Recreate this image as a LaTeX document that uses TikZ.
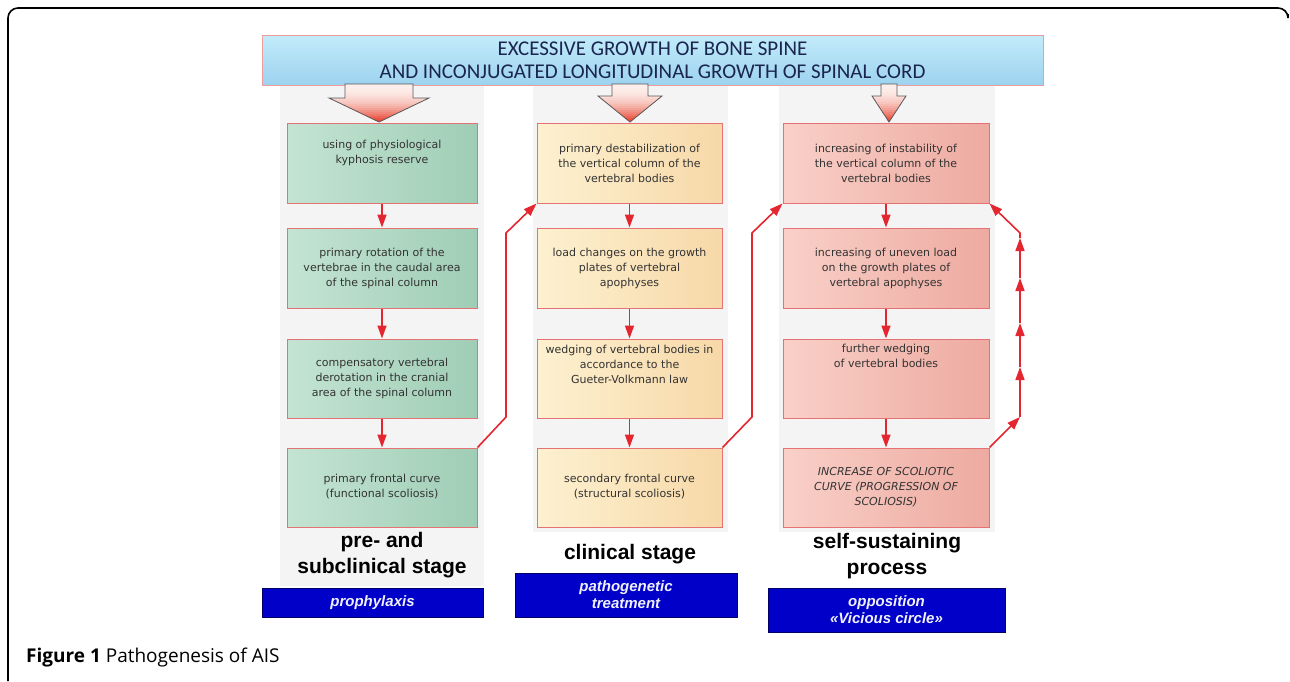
\documentclass[tikz,border=0pt]{standalone}
\usepackage{fontspec}
\setmainfont{Liberation Sans}
\newfontfamily\boxfont{DejaVu Sans}
\newfontfamily\headfont{Carlito}
\newfontfamily\capfont{Open Sans}
\usetikzlibrary{arrows.meta,positioning,shapes}

\definecolor{boxline}{HTML}{E57373}
\definecolor{flowred}{HTML}{E3262F}
\definecolor{boxtext}{HTML}{333333}
\definecolor{navy}{HTML}{1A2550}
\definecolor{greenA}{HTML}{C4E4D3}
\definecolor{greenB}{HTML}{9FCDB5}
\definecolor{yellowA}{HTML}{FDF1D0}
\definecolor{yellowB}{HTML}{F7D8A8}
\definecolor{pinkA}{HTML}{F9D0C8}
\definecolor{pinkB}{HTML}{EDAAA0}
\definecolor{bannerA}{HTML}{C2ECFA}
\definecolor{bannerB}{HTML}{9DD2EF}
\definecolor{tipred}{HTML}{E8412E}
\definecolor{arrowtop}{HTML}{FCEEEA}
\definecolor{blueboxfill}{HTML}{0000C8}
\definecolor{panel}{HTML}{F4F4F4}

% outline of a big down arrow: centre, half shaft, half head, head top
\newcommand{\downarrowpath}[4]{(#1-#2,84) -- (#1+#2,84) -- (#1+#2,#4) -- (#1+#3,#4)
    -- (#1,122) -- (#1-#3,#4) -- (#1-#2,#4) -- cycle}

\begin{document}
\begin{tikzpicture}[x=1pt,y=-1pt]
\tikzstyle{box}=[draw=boxline, line width=1pt, minimum height=80pt, align=center, inner sep=2pt,
  text=boxtext, font=\boxfont\fontsize{11}{15}\selectfont]
\tikzstyle{prebox}=[box, minimum width=190pt, left color=greenA, right color=greenB]
\tikzstyle{clibox}=[box, minimum width=185pt, left color=yellowA, right color=yellowB]
\tikzstyle{selfbox}=[box, minimum width=206pt, left color=pinkA, right color=pinkB]
\tikzstyle{stage}=[align=center, font=\fontsize{21}{26}\selectfont\bfseries]
\tikzstyle{measure}=[draw=blue!40!black, line width=0.6pt, fill=blueboxfill, align=center,
  text=blue!6, font=\fontsize{15}{17}\selectfont\bfseries\itshape]
\tikzstyle{flow}=[draw=flowred, line width=1.6pt, -{Triangle[width=9pt,length=13pt]}]

\useasboundingbox (0,0) rectangle (1290,681);

% frame of the figure
\draw[line width=1.6pt, rounded corners=10pt] (8,681) -- (8,8) -- (1288,8) -- (1288,14);

% faint panels behind the columns
\fill[panel] (280,85) rectangle (484,586);
\fill[panel] (533,85) rectangle (728,532);
\fill[panel] (779,85) rectangle (995,532);

% banner
\node (banner) [draw=boxline!70, line width=0.8pt, top color=bannerA, bottom color=bannerB,
  minimum width=781pt, minimum height=50pt, align=center, text=navy,
  font=\headfont\fontsize{21}{23}\selectfont] at (652.5,60)
  {EXCESSIVE GROWTH OF BONE SPINE\\AND INCONJUGATED LONGITUDINAL GROWTH OF SPINAL CORD};

% big arrows from the banner, pale at the top and red at the tip
\foreach \cx/\sw/\hw/\ht in {379/34/50/98, 630/18/32/96, 889/8/17/96}{
  \begin{scope}
    \clip \downarrowpath{\cx}{\sw}{\hw}{\ht};
    \foreach \k [evaluate=\k as \p using {int(\k*\k/3.24)}] in {0,...,18}
      \fill[tipred!\p!arrowtop] (\cx-\hw,84+2*\k) rectangle (\cx+\hw,86.5+2*\k);
  \end{scope}
  \draw[black!65, line width=0.8pt] \downarrowpath{\cx}{\sw}{\hw}{\ht};
}

% pre- and subclinical stage
\node (pre1) [prebox] at (382,163) {using of physiological\\kyphosis reserve\\[8pt]};
\node (pre2) [prebox, below=24pt of pre1] {primary rotation of the\\vertebrae in the caudal area\\of the spinal column};
\node (pre3) [prebox, below=30pt of pre2, minimum height=79pt] {\\[-6pt]compensatory vertebral\\derotation in the cranial\\area of the spinal column};
\node (pre4) [prebox, below=29pt of pre3, minimum height=79pt] {\\[-8pt]primary frontal curve\\(functional scoliosis)};

% clinical stage
\node (cli1) [clibox] at (629.5,163) {primary destabilization of\\the vertical column of the\\vertebral bodies};
\node (cli2) [clibox, below=24pt of cli1] {load changes on the growth\\plates of vertebral\\apophyses};
\node (cli3) [clibox, below=30pt of cli2, minimum height=79pt] {wedging of vertebral bodies in\\accordance to the\\Gueter-Volkmann law\\[14pt]};
\node (cli4) [clibox, below=29pt of cli3, minimum height=79pt] {\\[-8pt]secondary frontal curve\\(structural scoliosis)};

% self-sustaining process
\node (self1) [selfbox] at (886,163) {increasing of instability of\\the vertical column of the\\vertebral bodies};
\node (self2) [selfbox, below=24pt of self1] {increasing of uneven load\\on the growth plates of\\vertebral apophyses};
\node (self3) [selfbox, below=30pt of self2, minimum height=79pt] {further wedging\\of vertebral bodies\\[30pt]};
\node (self4) [selfbox, below=29pt of self3, minimum height=79pt] {\itshape INCREASE OF SCOLIOTIC\\\itshape CURVE (PROGRESSION OF\\\itshape SCOLIOSIS)};

% stage names and measures
\node (prestage) [stage] at (382,555) {pre- and\\subclinical stage};
\node (clistage) [stage] at (630,554) {clinical stage};
\node (selfstage) [stage] at (887,556) {self-sustaining\\process};
\node (prophy) [measure, minimum width=221pt, minimum height=29pt] at (372.5,602.5) {prophylaxis};
\node (treat) [measure, minimum width=222pt, minimum height=44pt] at (626,595) {pathogenetic\\treatment};
\node (oppos) [measure, minimum width=237pt, minimum height=44pt] at (886.5,610) {opposition\\«Vicious circle»};

% arrows down each column
\foreach \col in {pre,cli,self}{
  \draw[flow] (\col1) -- (\col2);
  \draw[flow] (\col2) -- (\col3);
  \draw[flow] (\col3) -- (\col4);
}

% passages between the stages
\coordinate (jumpAlow) at (506,417);
\coordinate (jumpAhigh) at (506,233);
\coordinate (jumpBlow) at (752,417);
\coordinate (jumpBhigh) at (752,233);
\draw[flow] (pre4.north east) -- (jumpAlow) -- (jumpAhigh) -- (cli1.south west);
\draw[flow] (cli4.north east) -- (jumpBlow) -- (jumpBhigh) -- (self1.south west);

% vicious circle
\coordinate (loopA) at (1020,417);
\coordinate (loopB) at (1020,367);
\coordinate (loopC) at (1020,323);
\coordinate (loopD) at (1020,278);
\coordinate (loopE) at (1020,238);
\coordinate (loopF) at (1020,233);
\draw[flow] (self4.north east) -- (loopA);
\draw[flow] (loopA) -- (loopB);
\draw[flow] (loopB) -- (loopC);
\draw[flow] (loopC) -- (loopD);
\draw[flow] (loopD) -- (loopE);
\draw[flow] (loopE) -- (loopF) -- (self1.south east);

% caption
\node (caption) [anchor=base west, inner sep=0pt, font=\capfont\fontsize{19}{21}\selectfont] at (26,662)
  {\textbf{Figure 1} Pathogenesis of AIS};
\end{tikzpicture}
\end{document}
